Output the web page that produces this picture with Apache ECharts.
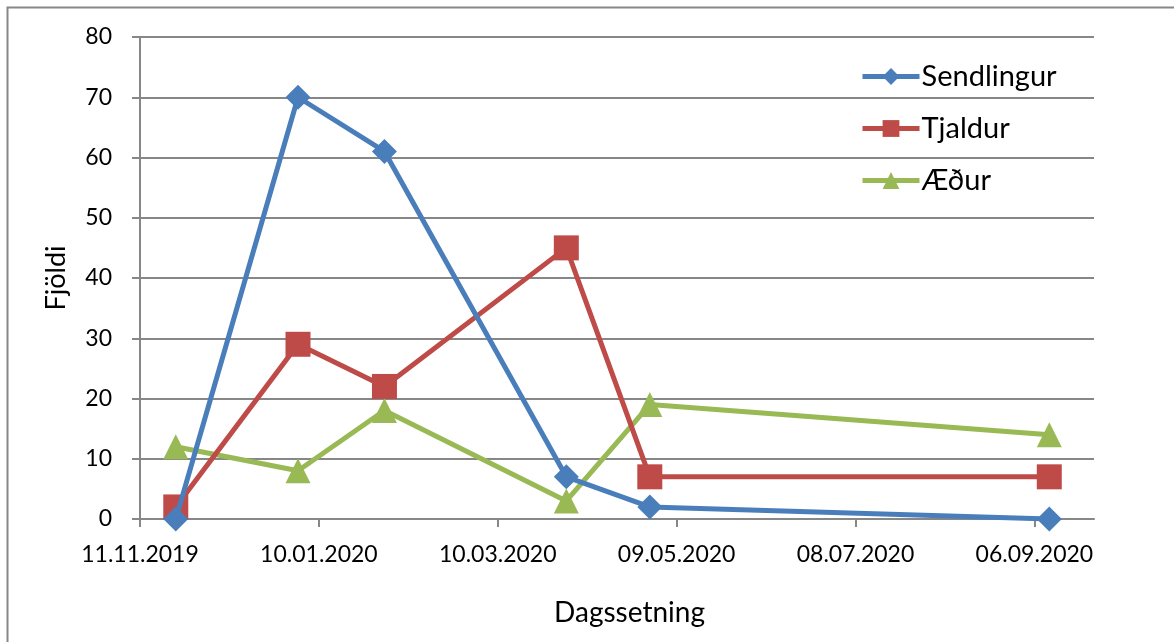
<!DOCTYPE html>
<html lang="is">
<head>
    <meta charset="UTF-8">
    <title>Fjöldi</title>
    <script src="https://cdn.jsdelivr.net/npm/echarts@6/dist/echarts.min.js"></script>
    <style>
        html, body { margin: 0; padding: 0; background: #fff; }
        #chart { width: 1174px; height: 642px; }
    </style>
</head>
<body>
<div id="chart"></div>
<script type="text/javascript">
    // dagsetningar talninga
    var dates = ['23.11.2019', '03.01.2020', '01.02.2020', '02.04.2020', '30.04.2020', '11.09.2020'];
    var sendlingur = [0, 70, 61, 7, 2, 0];
    var tjaldur = [2, 29, 22, 45, 7, 7];
    var aedur = [12, 8, 18, 3, 19, 14];
    var axisStart = '11.11.2019';
    var axisEnd = '26.09.2020';
    var tickDays = [0, 60, 120, 180, 240, 300];

    function toMs(s) {
        var p = s.split('.');
        return Date.UTC(+p[2], +p[1] - 1, +p[0]);
    }
    var DAY = 86400000;
    var t0 = toMs(axisStart);
    function dayOf(s) { return Math.round((toMs(s) - t0) / DAY); }
    function fmt(d) {
        var dt = new Date(t0 + d * DAY);
        var dd = ('0' + dt.getUTCDate()).slice(-2);
        var mm = ('0' + (dt.getUTCMonth() + 1)).slice(-2);
        return dd + '.' + mm + '.' + dt.getUTCFullYear();
    }
    function pairs(vals) {
        return vals.map(function (v, i) { return [dayOf(dates[i]), v]; });
    }

    var font = 'Lato, "Liberation Sans", sans-serif';
    var gray = '#878787';

    var chart = echarts.init(document.getElementById('chart'));
    chart.setOption({
        animation: false,
        textStyle: { fontFamily: font },
        grid: { left: 140, top: 37, right: 80, bottom: 123 },
        graphic: [{
            type: 'polyline',
            silent: true,
            shape: { points: [[7.5, 642], [7.5, 7.5], [1174, 7.5]] },
            style: { stroke: gray, lineWidth: 2, fill: null }
        }],
        legend: {
            orient: 'vertical',
            left: 860,
            top: 62,
            padding: 0,
            itemWidth: 57,
            itemHeight: 21,
            itemGap: 23,
            lineStyle: { width: 5 },
            textStyle: { fontFamily: font, fontSize: 29, lineHeight: 21, color: '#000', padding: [0, 0, 0, -3] },
            data: ['Sendlingur', 'Tjaldur', 'Æður']
        },
        xAxis: {
            type: 'value',
            min: 0,
            max: dayOf(axisEnd),
            interval: 60,
            name: 'Dagssetning',
            nameLocation: 'middle',
            nameGap: 80,
            nameTextStyle: { fontFamily: font, fontSize: 28, color: '#000', padding: [0, 0, 0, 25] },
            axisLine: { onZero: false, lineStyle: { color: gray, width: 2 } },
            axisTick: { show: true, length: 8, lineStyle: { color: gray, width: 2 }, customValues: tickDays },
            axisLabel: {
                customValues: tickDays,
                margin: 24,
                fontSize: 23,
                color: '#000',
                formatter: function (v) { return fmt(v); }
            },
            splitLine: { show: false }
        },
        yAxis: {
            type: 'value',
            min: 0,
            max: 80,
            interval: 10,
            name: 'Fjöldi',
            nameLocation: 'middle',
            nameGap: 70,
            nameTextStyle: { fontFamily: font, fontSize: 27, color: '#000' },
            axisLine: { show: true, lineStyle: { color: gray, width: 2 } },
            axisTick: { show: true, length: 8, lineStyle: { color: gray, width: 2 } },
            axisLabel: { margin: 28, fontSize: 23, color: '#000' },
            splitLine: { lineStyle: { color: gray, width: 2 } }
        },
        series: [{
            name: 'Sendlingur',
            type: 'line',
            data: pairs(sendlingur),
            symbol: 'diamond',
            symbolSize: 25,
            color: '#4A7EBB',
            lineStyle: { width: 5 },
            z: 4
        }, {
            name: 'Tjaldur',
            type: 'line',
            data: pairs(tjaldur),
            symbol: 'rect',
            symbolSize: 25,
            color: '#BE4B48',
            lineStyle: { width: 5 },
            z: 3
        }, {
            name: 'Æður',
            type: 'line',
            data: pairs(aedur),
            symbol: 'triangle',
            symbolSize: 25,
            color: '#98B954',
            lineStyle: { width: 5 },
            z: 2
        }]
    });
</script>
</body>
</html>
